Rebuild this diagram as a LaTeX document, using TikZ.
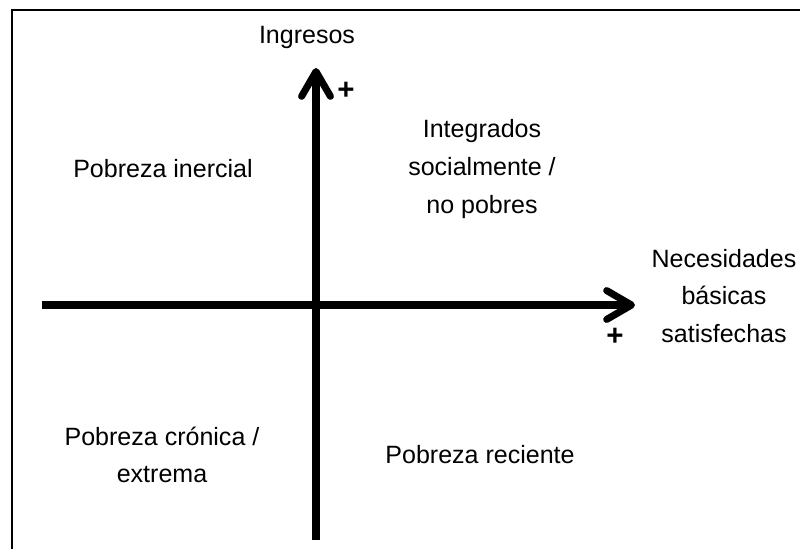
\documentclass[tikz,border=0pt]{standalone}
\usepackage{fontspec}
\setmainfont{Liberation Sans}
\usetikzlibrary{arrows.meta}
\usetikzlibrary{positioning}
\tikzstyle{region}=[align=center,inner sep=0pt,font=\fontsize{17.8}{26.7}\selectfont]
\tikzstyle{sign}=[inner sep=0pt,font=\fontsize{21}{24}\selectfont\bfseries]
\tikzstyle{axisline}=[line width=5pt,-{Straight Barb[length=0.62cm,width=0.72cm,line join=round,line cap=round]}]
\tikzset{every picture/.style={
    x=0.025cm,y=-0.025cm
  }
}

\begin{document}
\begin{tikzpicture}
        \useasboundingbox (0,0) rectangle (800,548);
        \clip (0,0) rectangle (800,548);
        \draw[line width=1.1pt] (12,10) rectangle (830,580);
        \coordinate (ybot) at (316,540);
        \coordinate (ytop) at (316,68);
        \coordinate (xleft) at (42,305);
        \coordinate (xright) at (635,305);
        \draw[axisline] (xleft) -- (xright);
        \draw[axisline] (ybot) -- (ytop);
        \node[region,anchor=base] at (307,43) (ingresos) {Ingresos};
        \node[region] at (724,296) (nbs) {Necesidades\\básicas\\satisfechas};
        \node[sign] at (346,91) (plusy) {+};
        \node[sign] at (615,337) (plusx) {+};
        \node[region] at (482,169) (integrados) {Integrados\\socialmente /\\no pobres};
        \node[region,anchor=base] at (163,177) (inercial) {Pobreza inercial};
        \node[region] at (162,455) (cronica) {Pobreza crónica /\\extrema};
        \node[region,anchor=base] at (480,463) (reciente) {Pobreza reciente};
      \end{tikzpicture}
\end{document}
